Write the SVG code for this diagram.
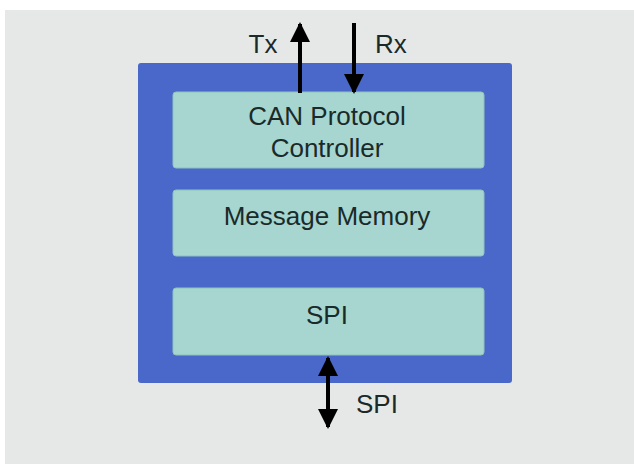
<svg xmlns="http://www.w3.org/2000/svg" width="634" height="464" viewBox="0 0 634 464">
<style>
.lbl{font-family:"Liberation Sans",Arial,sans-serif;font-size:26px;fill:#1a2a2a}
.inner{fill:#a6d6cf;stroke:#8fc2bb;stroke-width:1}
.conn{stroke:#000;stroke-width:4;fill:none}
</style>
<defs>
<marker id="ah" viewBox="0 0 10 10" refX="9" refY="5" markerWidth="5" markerHeight="5" markerUnits="strokeWidth" orient="auto-start-reverse">
<path d="M0,0 L10,5 L0,10 z" fill="#000"/>
</marker>
</defs>
<rect x="0" y="0" width="634" height="464" fill="#ffffff"/>
<rect x="5" y="10" width="629" height="454" fill="#e6e8e8"/>
<g id="chip">
<rect x="138" y="63" width="374" height="320" rx="3" fill="#4a68c9"/>
</g>
<g id="can">
<rect class="inner" x="173" y="92" width="311" height="76" rx="3"/>
<text class="lbl" x="327" y="125" text-anchor="middle">CAN Protocol</text>
<text class="lbl" x="327" y="157" text-anchor="middle">Controller</text>
</g>
<g id="mem">
<rect class="inner" x="173" y="190" width="311" height="66" rx="3"/>
<text class="lbl" x="327" y="225" text-anchor="middle">Message Memory</text>
</g>
<g id="spi">
<rect class="inner" x="173" y="288" width="311" height="67" rx="3"/>
<text class="lbl" x="327" y="324" text-anchor="middle">SPI</text>
</g>
<g id="connectors">
<line class="conn" x1="300" y1="93" x2="300" y2="24" marker-end="url(#ah)"/>
<line class="conn" x1="354" y1="23" x2="354" y2="92" marker-end="url(#ah)"/>
<line class="conn" x1="328" y1="358" x2="328" y2="427" marker-start="url(#ah)" marker-end="url(#ah)"/>
</g>
<g id="labels">
<text class="lbl" x="263" y="53" text-anchor="middle">Tx</text>
<text class="lbl" x="375" y="53">Rx</text>
<text class="lbl" x="356" y="413">SPI</text>
</g>
</svg>
